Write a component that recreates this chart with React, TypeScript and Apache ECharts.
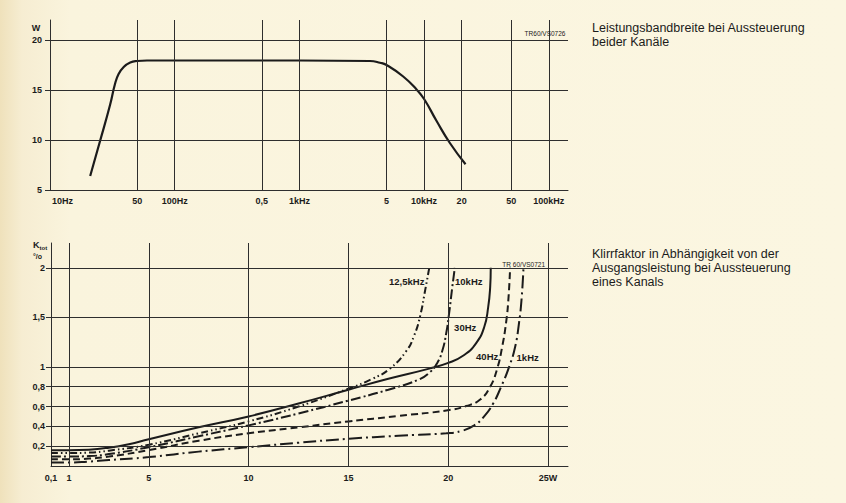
import React, { useEffect, useRef } from "react";
import * as echarts from "echarts";

// ---- Top chart: power bandwidth (frequency in Hz, output power in W)
const bandFreqHz = [21, 25.2, 30.3, 33.2, 35.5, 39, 44, 50, 60, 100, 1000, 3680, 4430, 5000, 6800, 8700, 10000, 12600, 16100, 21500];
const bandPowerW = [6.4, 9.9, 13.5, 15.6, 16.6, 17.3, 17.75, 17.9, 17.95, 17.95, 17.95, 17.9, 17.73, 17.5, 16.35, 15.05, 14.1, 11.9, 9.7, 7.57];
const bandTicksHz = [10, 50, 100, 500, 1000, 5000, 10000, 20000, 50000, 100000];
const bandTickLabels = ["10Hz", "50", "100Hz", "0,5", "1kHz", "5", "10kHz", "20", "50", "100kHz"];
const powerTicksW = [5, 10, 15, 20];

// ---- Bottom chart: distortion (output power W, K_tot %)
const curve12k5Hz: [number, number][] = [[0.1, 0.13], [1, 0.13], [2, 0.135], [3, 0.155], [5, 0.215], [7.5, 0.33], [10, 0.45], [12.5, 0.6], [15, 0.78], [16.2, 0.88], [17.06, 0.98], [17.9, 1.16], [18.3, 1.32], [18.6, 1.52], [18.85, 1.78], [19.05, 2.0]];
const curve10kHz: [number, number][] = [[0.1, 0.095], [1, 0.095], [2, 0.1], [3, 0.12], [5, 0.19], [7.5, 0.3], [10, 0.41], [12.5, 0.53], [15, 0.66], [17, 0.77], [18.5, 0.87], [19.1, 0.95], [19.45, 1.04], [19.7, 1.16], [19.9, 1.34], [20.05, 1.55], [20.2, 1.8], [20.33, 2.0]];
const curve30Hz: [number, number][] = [[0.1, 0.16], [1, 0.16], [2, 0.165], [3, 0.185], [4, 0.22], [5, 0.27], [7.5, 0.39], [10, 0.5], [12.5, 0.63], [15, 0.77], [17, 0.88], [19, 0.98], [20, 1.04], [20.8, 1.12], [21.4, 1.24], [21.8, 1.4], [22.0, 1.6], [22.1, 1.8], [22.13, 2.0]];
const curve40Hz: [number, number][] = [[0.1, 0.067], [1, 0.067], [2, 0.075], [3, 0.095], [5, 0.16], [7.5, 0.255], [10, 0.33], [12.5, 0.39], [15, 0.45], [17.5, 0.505], [19.9, 0.56], [20.9, 0.605], [21.6, 0.67], [22.1, 0.8], [22.45, 0.98], [22.7, 1.2], [22.9, 1.45], [23.02, 1.7], [23.1, 2.0]];
const curve1kHz: [number, number][] = [[0.1, 0.035], [1, 0.035], [2, 0.045], [3, 0.06], [5, 0.09], [7.5, 0.145], [10, 0.19], [12.5, 0.235], [15, 0.275], [17.5, 0.305], [19.9, 0.33], [20.7, 0.355], [21.3, 0.41], [21.8, 0.5], [22.25, 0.63], [22.65, 0.8], [23.05, 1.0], [23.35, 1.2], [23.55, 1.45], [23.68, 1.7], [23.77, 2.0]];
const curveNames = ["12,5kHz", "10kHz", "30Hz", "40Hz", "1kHz"];
const curveLabelPos: [number, number][] = [[17.92, 1.86], [21.03, 1.86], [20.85, 1.4], [21.95, 1.1], [23.98, 1.09]];
const outTicksW = [0.1, 1, 5, 10, 15, 20, 25];
const outTickLabels = ["0,1", "1", "5", "10", "15", "20", "25W"];
const outGridW = [1, 5, 10, 15, 20, 25];
const thdTicks = [0.2, 0.4, 0.6, 0.8, 1, 1.5, 2];
const thdTickLabels = ["0,2", "0,4", "0,6", "0,8", "1", "1,5", "2"];

const INK = "#1b1b1b";
const GRID = "#2e2e2e";
const FONT = "'Liberation Sans', Arial, sans-serif";

const lookup = (ticks: number[], labels: string[]) => (v: number) => {
  const i = ticks.findIndex((t) => Math.abs(t - v) < 1e-6);
  return i >= 0 ? labels[i] : "";
};

export default function App() {
  const ref = useRef<HTMLDivElement>(null);
  useEffect(() => {
    if (!ref.current) return;
    const chart = echarts.init(ref.current, undefined, { renderer: "svg" });
    const gridLine = { color: GRID, width: 1, type: "solid" as const };
    const dashStyles: any[] = [[7, 3, 1.5, 3, 1.5, 3], [10, 3, 2, 3], "solid", [7, 4], [13, 4, 2, 4]];
    const curves = [curve12k5Hz, curve10kHz, curve30Hz, curve40Hz, curve1kHz];
    const tickFont = { color: INK, fontSize: 9, fontWeight: "bold" as const, fontFamily: FONT };

    const bottomSeries = curves.map((data, i) => ({
      type: "line",
      name: curveNames[i],
      xAxisIndex: 1,
      yAxisIndex: 1,
      data,
      showSymbol: false,
      smooth: 0.5,
      lineStyle: { color: INK, width: 2, type: dashStyles[i], cap: "butt" },
      markPoint: {
        symbol: "circle",
        symbolSize: 0,
        silent: true,
        data: [
          {
            coord: curveLabelPos[i],
            label: { show: true, position: "inside", formatter: curveNames[i], ...tickFont, fontSize: 9.5 },
          },
        ],
      },
      ...(i === 0
        ? {
            markLine: {
              silent: true,
              symbol: ["none", "none"],
              lineStyle: gridLine,
              label: { show: false },
              data: [
                ...thdTicks.map((v) => ({ yAxis: v })),
                ...outGridW.map((v) => ({ xAxis: v })),
              ],
            },
          }
        : {}),
    }));

    chart.setOption({
      animation: false,
      backgroundColor: "transparent",
      textStyle: { fontFamily: FONT },
      grid: [
        { left: 50, top: 20, width: 518, height: 170 },
        { left: 51, top: 243, width: 517, height: 223 },
      ],
      xAxis: [
        {
          type: "log",
          gridIndex: 0,
          min: 10,
          max: 142600,
          axisLine: { show: true, onZero: false, lineStyle: { color: GRID, width: 1 } },
          axisTick: { show: false },
          axisLabel: { show: false },
          splitLine: { show: false },
        },
        {
          type: "value",
          gridIndex: 1,
          min: 0.1,
          max: 26,
          axisLine: { show: true, onZero: false, lineStyle: { color: GRID, width: 1 } },
          axisTick: { show: false },
          axisLabel: {
            customValues: outTicksW,
            formatter: lookup(outTicksW, outTickLabels),
            ...tickFont,
            margin: 7,
          },
          splitLine: { show: false },
        },
      ],
      yAxis: [
        {
          type: "value",
          gridIndex: 0,
          min: 5,
          max: 22,
          axisLine: { show: true, lineStyle: { color: GRID, width: 1 } },
          axisTick: { show: true, customValues: powerTicksW, length: 5, lineStyle: { color: GRID } },
          axisLabel: { customValues: powerTicksW, ...tickFont, margin: 8 },
          splitLine: { show: false },
        },
        {
          type: "value",
          gridIndex: 1,
          min: 0,
          max: 2.25,
          axisLine: { show: true, lineStyle: { color: GRID, width: 1 } },
          axisTick: { show: true, customValues: thdTicks, length: 5, lineStyle: { color: GRID } },
          axisLabel: {
            customValues: thdTicks,
            formatter: lookup(thdTicks, thdTickLabels),
            ...tickFont,
            margin: 6,
          },
          splitLine: { show: false },
        },
      ],
      series: [
        {
          type: "line",
          name: "Leistungsbandbreite",
          xAxisIndex: 0,
          yAxisIndex: 0,
          data: bandFreqHz.map((f, i) => [f, bandPowerW[i]]),
          showSymbol: false,
          smooth: 0.5,
          lineStyle: { color: INK, width: 2.2 },
          markLine: {
            silent: true,
            symbol: ["none", "none"],
            lineStyle: gridLine,
            data: [
              ...[10, 15, 20].map((v) => ({ yAxis: v, label: { show: false } })),
              ...bandTicksHz.map((f, i) => ({
                xAxis: f,
                label: {
                  show: true,
                  position: "start",
                  distance: 6,
                  formatter: bandTickLabels[i],
                  ...tickFont,
                  ...(i === 0 ? { align: "left", padding: [0, 0, 0, 2] } : {}),
                },
              })),
            ],
          },
          markPoint: {
            symbol: "circle",
            symbolSize: 0,
            silent: true,
            data: [
              {
                coord: [93300, 20.7],
                label: { show: true, position: "inside", formatter: "TR60/VS0726", color: INK, fontSize: 6.5, fontFamily: FONT },
              },
            ],
          },
        },
        ...bottomSeries,
        {
          type: "line",
          xAxisIndex: 1,
          yAxisIndex: 1,
          data: [],
          markPoint: {
            symbol: "circle",
            symbolSize: 0,
            silent: true,
            data: [
              {
                coord: [23.78, 2.03],
                label: { show: true, position: "inside", formatter: "TR 60/VS0721", color: INK, fontSize: 6.5, fontFamily: FONT },
              },
            ],
          },
        },
      ],
      graphic: [
        {
          type: "text",
          x: 36,
          y: 28,
          style: { text: "W", fill: INK, font: `bold 9px ${FONT}`, align: "center", verticalAlign: "middle" },
        },
        {
          type: "text",
          x: 33,
          y: 238,
          style: {
            text: "{k|K}{s|tot}\n{p|°/o}",
            fill: INK,
            rich: {
              k: { fontSize: 9, fontWeight: "bold", fontFamily: FONT, fill: INK, lineHeight: 13 },
              s: { fontSize: 6, fontWeight: "bold", fontFamily: FONT, fill: INK, verticalAlign: "bottom", lineHeight: 13, padding: [4, 0, 0, 0] },
              p: { fontSize: 7, fontWeight: "bold", fontFamily: FONT, fill: INK, lineHeight: 11 },
            },
          },
        },
        {
          type: "text",
          x: 592,
          y: 21,
          style: {
            text: "Leistungsbandbreite bei Aussteuerung\nbeider Kanäle",
            fill: INK,
            font: `12.5px ${FONT}`,
            lineHeight: 14,
          },
        },
        {
          type: "text",
          x: 592,
          y: 247,
          style: {
            text: "Klirrfaktor in Abhängigkeit von der\nAusgangsleistung bei Aussteuerung\neines Kanals",
            fill: INK,
            font: `12.5px ${FONT}`,
            lineHeight: 14,
          },
        },
      ],
    });
    return () => chart.dispose();
  }, []);

  return (
    <div
      style={{
        position: "absolute",
        left: 0,
        top: 0,
        width: 846,
        height: 503,
        background: "linear-gradient(to right, #efe1bb 0px, #f6edd2 22px, #faf4dd 70px, #fbf6e1 100%)",
      }}
    >
      <div ref={ref} style={{ width: 846, height: 503 }} />
    </div>
  );
}
